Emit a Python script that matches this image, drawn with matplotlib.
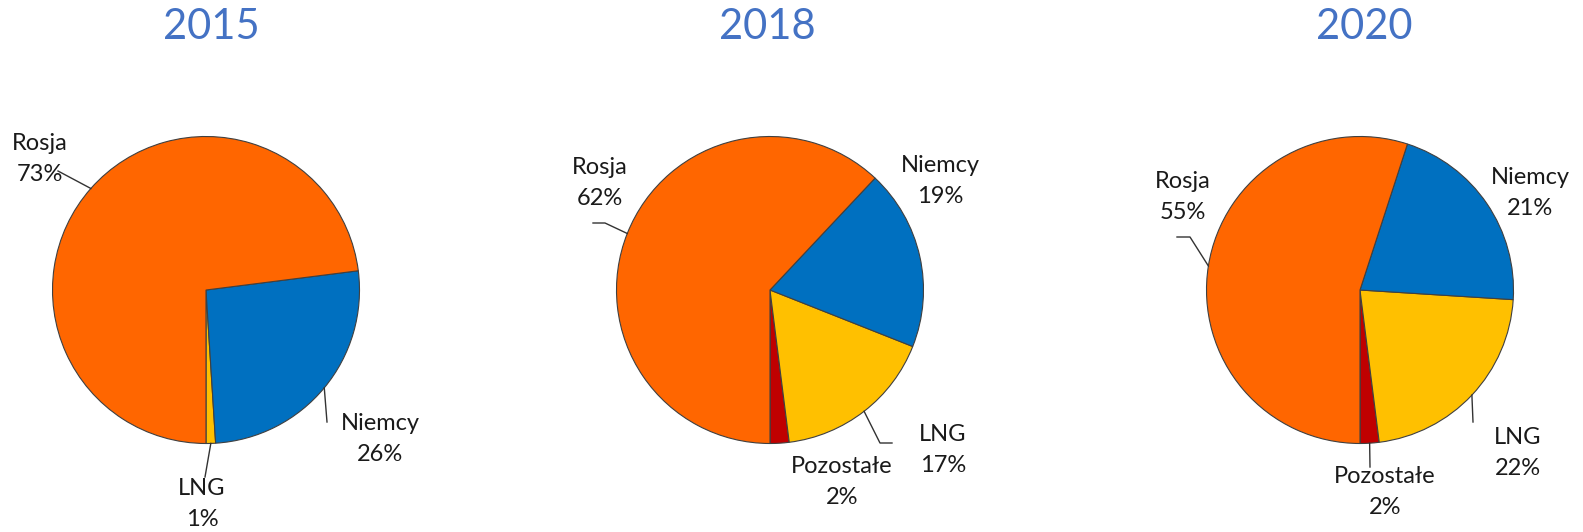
import matplotlib
matplotlib.use("Agg")
import matplotlib.pyplot as plt
import numpy as np

plt.rcParams['font.family'] = ['Lato', 'DejaVu Sans']

# ---- data ----
years = ["2015", "2018", "2020"]
cats_2015 = ["LNG", "Niemcy", "Rosja"]
vals_2015 = [1, 26, 73]
cats_2018 = ["Pozostałe", "LNG", "Niemcy", "Rosja"]
vals_2018 = [2, 17, 19, 62]
cats_2020 = ["Pozostałe", "LNG", "Niemcy", "Rosja"]
vals_2020 = [2, 22, 21, 55]

colors = {"Rosja": "#FF6600", "Niemcy": "#0070C0", "LNG": "#FFC000", "Pozostałe": "#C00000"}

# ---- layout (image pixel coordinates, y down) ----
W, H = 1583, 532
centers = [(206, 290), (770, 290), (1360, 290)]
radius = 153.5
title_x = [211, 767, 1364]
title_y = 27

label_pos = {
    "2015": {"Rosja": (40, 159), "Niemcy": (380, 439), "LNG": (202, 504)},
    "2018": {"Rosja": (600, 183), "Niemcy": (940, 181), "LNG": (943, 450), "Pozostałe": (842, 482)},
    "2020": {"Rosja": (1183, 197), "Niemcy": (1530, 193), "LNG": (1518, 453), "Pozostałe": (1385, 492)},
}
leaders = {
    "2015": {"Rosja": [(58, 171)], "Niemcy": [(327, 422)], "LNG": [(205, 477)]},
    "2018": {"Rosja": [(605, 223), (593, 223)], "LNG": [(880, 443), (892, 443)]},
    "2020": {"Rosja": [(1190, 237), (1177, 237)], "LNG": [(1473, 422)], "Pozostałe": [(1370, 467)]},
}

fig = plt.figure(figsize=(W / 100, H / 100), dpi=100)
ax = fig.add_axes([0, 0, 1, 1])

datasets = [(cats_2015, vals_2015), (cats_2018, vals_2018), (cats_2020, vals_2020)]

for yr, (cats, vals), (cx, cy), tx in zip(years, datasets, centers, title_x):
    wedges, _ = ax.pie(vals, colors=[colors[c] for c in cats], startangle=-90,
                       counterclock=True, center=(cx, H - cy), radius=radius,
                       wedgeprops=dict(edgecolor="#404040", linewidth=0.8))
    ax.text(tx, H - title_y, yr, ha="center", va="center", fontsize=30, color="#4472C4")
    for w, c, v in zip(wedges, cats, vals):
        lx, ly = label_pos[yr][c]
        ax.text(lx, H - ly, f"{c}\n{v}%", ha="center", va="center", fontsize=17,
                color="#1a1a1a", linespacing=1.62)
        if c in leaders[yr]:
            mid = np.deg2rad((w.theta1 + w.theta2) / 2)
            sx = cx + radius * np.cos(mid)
            sy = (H - cy) + radius * np.sin(mid)
            pts = [(sx, sy)] + [(px, H - py) for px, py in leaders[yr][c]]
            ax.plot([p[0] for p in pts], [p[1] for p in pts], color="#333333", lw=1.0)

ax.set_xlim(0, W)
ax.set_ylim(0, H)
ax.set_aspect("equal")
ax.axis("off")
fig.savefig("out.png", dpi=100)
